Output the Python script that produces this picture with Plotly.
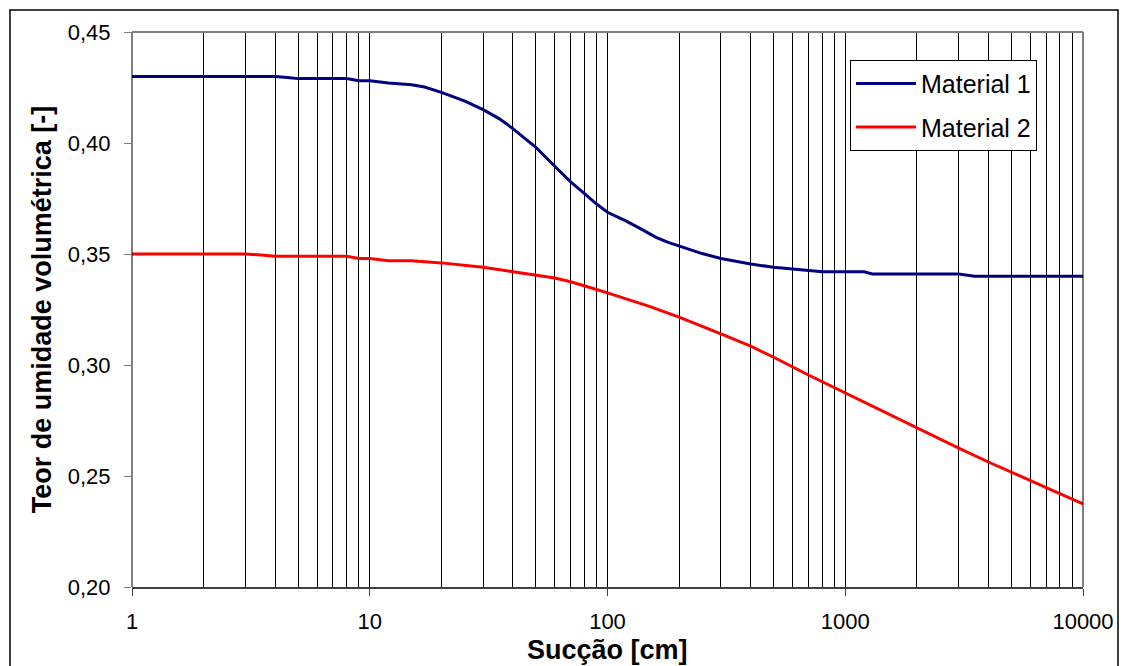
import plotly.graph_objects as go

# Material 1 data
suc_m1 = [1, 2, 3, 4, 4.5, 5, 6, 7, 8, 9, 10, 12, 15, 17, 20, 25, 30, 35, 40, 45, 50, 60, 70, 80, 90,
          100, 120, 140, 160, 180, 200, 250, 300, 400, 500, 600, 700, 800, 1000, 1200, 1300, 2000, 3000, 3500, 5000, 7000, 10000]
theta_m1 = [0.430, 0.430, 0.430, 0.430, 0.4295, 0.429, 0.429, 0.429, 0.429, 0.428, 0.428, 0.427, 0.4262, 0.4252, 0.4228,
            0.419, 0.415, 0.411, 0.4065, 0.402, 0.398, 0.3895, 0.3825, 0.3772, 0.3725,
            0.3688, 0.3648, 0.361, 0.3575, 0.3552, 0.3535, 0.3502, 0.348, 0.3455, 0.344, 0.3432, 0.3426, 0.342, 0.342, 0.342, 0.341, 0.341, 0.341, 0.340, 0.340, 0.340, 0.340]

# Material 2 data
suc_m2 = [1, 2, 3, 3.5, 4, 6, 8, 9, 10, 12, 15, 20, 25, 30, 40, 50, 60, 70, 80, 90, 100, 150, 200,
          250, 300, 400, 500, 700, 1000, 1500, 2000, 3000, 4000, 5000, 7000, 10000]
theta_m2 = [0.350, 0.350, 0.350, 0.3495, 0.349, 0.349, 0.349, 0.348, 0.348, 0.347, 0.347, 0.346, 0.345, 0.344, 0.342, 0.3405, 0.3392, 0.3375, 0.3358, 0.334, 0.3325, 0.3264, 0.3216,
            0.3175, 0.314, 0.3085, 0.3035, 0.2955, 0.2874, 0.278, 0.2716, 0.2626, 0.2563, 0.2518, 0.2448, 0.2374]

major_x = [1, 10, 100, 1000, 10000]
major_x_labels = ["1", "10", "100", "1000", "10000"]
minor_x = [m * d for d in [1, 10, 100, 1000] for m in range(2, 10)]
y_ticks = [0.20, 0.25, 0.30, 0.35, 0.40, 0.45]

fig = go.Figure()
fig.add_trace(go.Scatter(x=suc_m1, y=theta_m1, mode="lines", name="Material 1", legendgroup="m1",
                         line=dict(color="#000080", width=3)))
fig.add_trace(go.Scatter(x=suc_m2, y=theta_m2, mode="lines", name="Material 2", legendgroup="m2",
                         line=dict(color="#FF0000", width=3)))

font_fam = "Liberation Sans, Arial, sans-serif"

fig.update_layout(
    width=1125, height=666,
    margin=dict(l=132, r=42, t=32, b=79),
    paper_bgcolor="white", plot_bgcolor="white",
    separators=", ",
    font=dict(family=font_fam, color="black", size=22),
    showlegend=True,
    legend=dict(x=0.755, y=0.95, xanchor="left", yanchor="top",
                bgcolor="white", bordercolor="black", borderwidth=1,
                tracegroupgap=8, itemwidth=60,
                font=dict(size=25, family=font_fam)),
    xaxis=dict(type="log", range=[0, 4], automargin=False,
               tickvals=major_x, ticktext=major_x_labels,
               ticks="outside", ticklen=7, tickcolor="#404040",
               ticklabelstandoff=7,
               showgrid=True, gridcolor="black", gridwidth=1,
               minor=dict(tickvals=minor_x, showgrid=True, gridcolor="black", gridwidth=1, ticks=""),
               showline=True, linecolor="#404040", linewidth=2,
               zeroline=False,
               tickfont=dict(size=22)),
    yaxis=dict(range=[0.20, 0.45], tickvals=y_ticks, tickformat=".2f", automargin=False,
               ticks="outside", ticklen=7, tickcolor="#808080",
               ticklabelstandoff=9,
               showgrid=False, zeroline=False, showline=False,
               tickfont=dict(size=22),
               title=dict(text="<b>Teor de umidade volumétrica [-]</b>", font=dict(size=27), standoff=8)),
    annotations=[
        dict(text="<b>Sucção [cm]</b>", xref="paper", yref="paper", x=0.5, y=-0.114,
             xanchor="center", yanchor="middle", showarrow=False, font=dict(size=27)),
    ],
    shapes=[
        dict(type="line", xref="paper", yref="paper", x0=0, x1=0, y0=0, y1=1,
             line=dict(color="black", width=1)),
        dict(type="line", xref="paper", yref="paper", x0=1, x1=1, y0=0, y1=1,
             line=dict(color="black", width=1)),
        dict(type="line", xref="paper", yref="paper", x0=0, x1=1, y0=1, y1=1,
             line=dict(color="#808080", width=2)),
        dict(type="rect", xref="paper", yref="paper", x0=-0.1283, x1=1.0368, y0=-0.16, y1=1.0396,
             line=dict(color="black", width=1.5), layer="below"),
    ],
)

fig.write_html("out.html")
